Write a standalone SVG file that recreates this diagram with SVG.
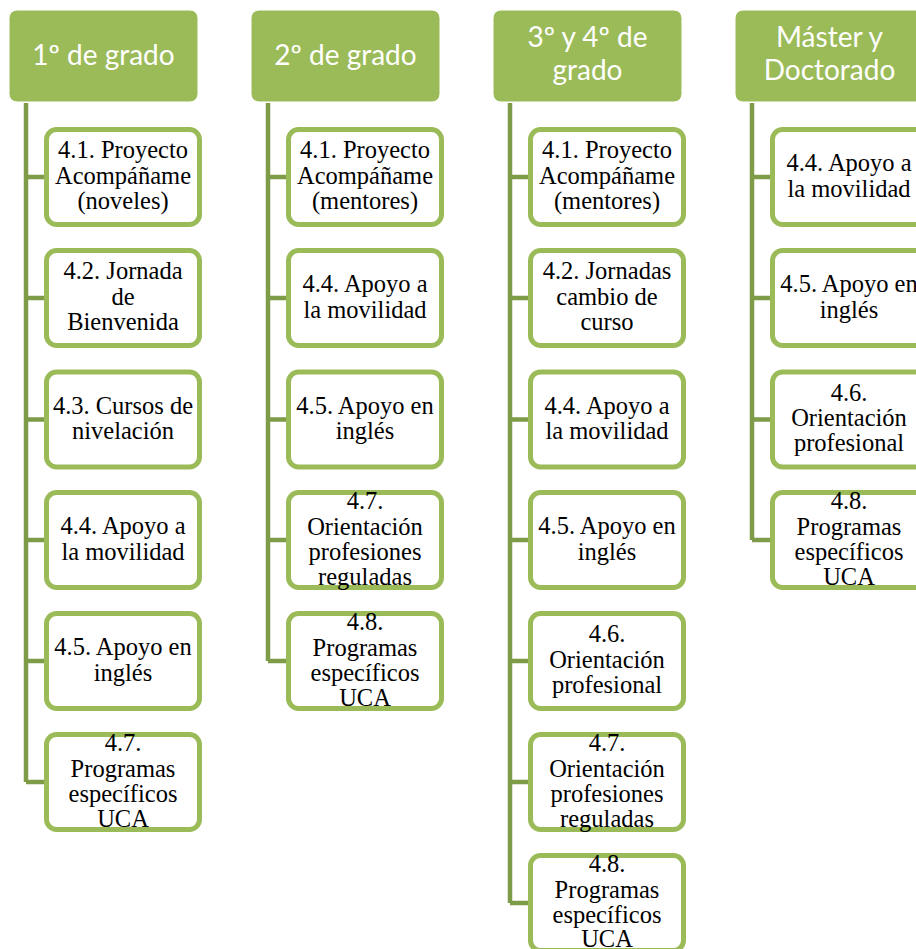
<svg xmlns="http://www.w3.org/2000/svg" width="916" height="949" viewBox="0 0 916 949">
<style>
.hdr{fill:#9BBB59;stroke:#ffffff;stroke-width:1}
.ht{font-size:28px;fill:#ffffff;text-anchor:middle}
.box{fill:#ffffff;stroke:#9BBB59;stroke-width:5}
.bt{font-size:20px;fill:#000000;text-anchor:middle}
.con{fill:none;stroke:#7E9B48;stroke-width:4.5;stroke-linejoin:miter}
</style>
<rect width="916" height="949" fill="#ffffff"/>
<g id="connectors">
<path class="con" d="M26,103 V782"/>
<path class="con" d="M26,177 H46 M26,298 H46 M26,419.5 H46 M26,540 H46 M26,661 H46 M26,782 H46"/>
<path class="con" d="M268,103 V661"/>
<path class="con" d="M268,177 H288 M268,298 H288 M268,419.5 H288 M268,540 H288 M268,661 H288"/>
<path class="con" d="M510,103 V903"/>
<path class="con" d="M510,177 H530 M510,298 H530 M510,419.5 H530 M510,540 H530 M510,661 H530 M510,782 H530 M510,903 H530"/>
<path class="con" d="M752,103 V540"/>
<path class="con" d="M752,177 H772 M752,298 H772 M752,419.5 H772 M752,540 H772"/>
</g>
<g id="h1"><rect class="hdr" x="9" y="10" width="189" height="92" rx="8"/><text class="ht" font-family="Lato, sans-serif" x="103.5" y="65">1º de grado</text></g>
<g id="c1n1"><rect class="box" x="46.5" y="129.5" width="153" height="95" rx="10"/><text class="bt" font-family="Liberation Serif, serif" transform="translate(123,177) scale(1.225)"><tspan x="0" y="-15.51">4.1. Proyecto</tspan><tspan x="0" y="5.31">Acompáñame</tspan><tspan x="0" y="26.12">(noveles)</tspan></text></g>
<g id="c1n2"><rect class="box" x="46.5" y="250.5" width="153" height="95" rx="10"/><text class="bt" font-family="Liberation Serif, serif" transform="translate(123,298) scale(1.225)"><tspan x="0" y="-15.51">4.2. Jornada</tspan><tspan x="0" y="5.31">de</tspan><tspan x="0" y="26.12">Bienvenida</tspan></text></g>
<g id="c1n3"><rect class="box" x="46.5" y="372" width="153" height="95" rx="10"/><text class="bt" font-family="Liberation Serif, serif" transform="translate(123,419.5) scale(1.225)"><tspan x="0" y="-4.69">4.3. Cursos de</tspan><tspan x="0" y="16.12">nivelación</tspan></text></g>
<g id="c1n4"><rect class="box" x="46.5" y="492.5" width="153" height="95" rx="10"/><text class="bt" font-family="Liberation Serif, serif" transform="translate(123,540) scale(1.225)"><tspan x="0" y="-4.69">4.4. Apoyo a</tspan><tspan x="0" y="16.12">la movilidad</tspan></text></g>
<g id="c1n5"><rect class="box" x="46.5" y="613.5" width="153" height="95" rx="10"/><text class="bt" font-family="Liberation Serif, serif" transform="translate(123,661) scale(1.225)"><tspan x="0" y="-4.69">4.5. Apoyo en</tspan><tspan x="0" y="16.12">inglés</tspan></text></g>
<g id="c1n6"><rect class="box" x="46.5" y="734.5" width="153" height="95" rx="10"/><text class="bt" font-family="Liberation Serif, serif" transform="translate(123,782) scale(1.225)"><tspan x="0" y="-25.31">4.7.</tspan><tspan x="0" y="-4.49">Programas</tspan><tspan x="0" y="16.33">específicos</tspan><tspan x="0" y="37.14">UCA</tspan></text></g>
<g id="h2"><rect class="hdr" x="251" y="10" width="189" height="92" rx="8"/><text class="ht" font-family="Lato, sans-serif" x="345.5" y="65">2º de grado</text></g>
<g id="c2n1"><rect class="box" x="288.5" y="129.5" width="153" height="95" rx="10"/><text class="bt" font-family="Liberation Serif, serif" transform="translate(365,177) scale(1.225)"><tspan x="0" y="-15.51">4.1. Proyecto</tspan><tspan x="0" y="5.31">Acompáñame</tspan><tspan x="0" y="26.12">(mentores)</tspan></text></g>
<g id="c2n2"><rect class="box" x="288.5" y="250.5" width="153" height="95" rx="10"/><text class="bt" font-family="Liberation Serif, serif" transform="translate(365,298) scale(1.225)"><tspan x="0" y="-4.69">4.4. Apoyo a</tspan><tspan x="0" y="16.12">la movilidad</tspan></text></g>
<g id="c2n3"><rect class="box" x="288.5" y="372" width="153" height="95" rx="10"/><text class="bt" font-family="Liberation Serif, serif" transform="translate(365,419.5) scale(1.225)"><tspan x="0" y="-4.69">4.5. Apoyo en</tspan><tspan x="0" y="16.12">inglés</tspan></text></g>
<g id="c2n4"><rect class="box" x="288.5" y="492.5" width="153" height="95" rx="10"/><text class="bt" font-family="Liberation Serif, serif" transform="translate(365,540) scale(1.225)"><tspan x="0" y="-25.31">4.7.</tspan><tspan x="0" y="-4.49">Orientación</tspan><tspan x="0" y="16.33">profesiones</tspan><tspan x="0" y="37.14">reguladas</tspan></text></g>
<g id="c2n5"><rect class="box" x="288.5" y="613.5" width="153" height="95" rx="10"/><text class="bt" font-family="Liberation Serif, serif" transform="translate(365,661) scale(1.225)"><tspan x="0" y="-25.31">4.8.</tspan><tspan x="0" y="-4.49">Programas</tspan><tspan x="0" y="16.33">específicos</tspan><tspan x="0" y="37.14">UCA</tspan></text></g>
<g id="h3"><rect class="hdr" x="493" y="10" width="189" height="92" rx="8"/><text class="ht" font-family="Lato, sans-serif"><tspan x="587.5" y="47">3º y 4º de</tspan><tspan x="587.5" y="80">grado</tspan></text></g>
<g id="c3n1"><rect class="box" x="530.5" y="129.5" width="153" height="95" rx="10"/><text class="bt" font-family="Liberation Serif, serif" transform="translate(607,177) scale(1.225)"><tspan x="0" y="-15.51">4.1. Proyecto</tspan><tspan x="0" y="5.31">Acompáñame</tspan><tspan x="0" y="26.12">(mentores)</tspan></text></g>
<g id="c3n2"><rect class="box" x="530.5" y="250.5" width="153" height="95" rx="10"/><text class="bt" font-family="Liberation Serif, serif" transform="translate(607,298) scale(1.225)"><tspan x="0" y="-15.51">4.2. Jornadas</tspan><tspan x="0" y="5.31">cambio de</tspan><tspan x="0" y="26.12">curso</tspan></text></g>
<g id="c3n3"><rect class="box" x="530.5" y="372" width="153" height="95" rx="10"/><text class="bt" font-family="Liberation Serif, serif" transform="translate(607,419.5) scale(1.225)"><tspan x="0" y="-4.69">4.4. Apoyo a</tspan><tspan x="0" y="16.12">la movilidad</tspan></text></g>
<g id="c3n4"><rect class="box" x="530.5" y="492.5" width="153" height="95" rx="10"/><text class="bt" font-family="Liberation Serif, serif" transform="translate(607,540) scale(1.225)"><tspan x="0" y="-4.69">4.5. Apoyo en</tspan><tspan x="0" y="16.12">inglés</tspan></text></g>
<g id="c3n5"><rect class="box" x="530.5" y="613.5" width="153" height="95" rx="10"/><text class="bt" font-family="Liberation Serif, serif" transform="translate(607,661) scale(1.225)"><tspan x="0" y="-15.51">4.6.</tspan><tspan x="0" y="5.31">Orientación</tspan><tspan x="0" y="26.12">profesional</tspan></text></g>
<g id="c3n6"><rect class="box" x="530.5" y="734.5" width="153" height="95" rx="10"/><text class="bt" font-family="Liberation Serif, serif" transform="translate(607,782) scale(1.225)"><tspan x="0" y="-25.31">4.7.</tspan><tspan x="0" y="-4.49">Orientación</tspan><tspan x="0" y="16.33">profesiones</tspan><tspan x="0" y="37.14">reguladas</tspan></text></g>
<g id="c3n7"><rect class="box" x="530.5" y="855.5" width="153" height="95" rx="10"/><text class="bt" font-family="Liberation Serif, serif" transform="translate(607,903) scale(1.225)"><tspan x="0" y="-25.31">4.8.</tspan><tspan x="0" y="-4.49">Programas</tspan><tspan x="0" y="16.33">específicos</tspan><tspan x="0" y="36.3">UCA</tspan></text></g>
<g id="h4"><rect class="hdr" x="735" y="10" width="189" height="92" rx="8"/><text class="ht" font-family="Lato, sans-serif"><tspan x="829.5" y="47">Máster y</tspan><tspan x="829.5" y="80">Doctorado</tspan></text></g>
<g id="c4n1"><rect class="box" x="772.5" y="129.5" width="153" height="95" rx="10"/><text class="bt" font-family="Liberation Serif, serif" transform="translate(849,177) scale(1.225)"><tspan x="0" y="-4.69">4.4. Apoyo a</tspan><tspan x="0" y="16.12">la movilidad</tspan></text></g>
<g id="c4n2"><rect class="box" x="772.5" y="250.5" width="153" height="95" rx="10"/><text class="bt" font-family="Liberation Serif, serif" transform="translate(849,298) scale(1.225)"><tspan x="0" y="-4.69">4.5. Apoyo en</tspan><tspan x="0" y="16.12">inglés</tspan></text></g>
<g id="c4n3"><rect class="box" x="772.5" y="372" width="153" height="95" rx="10"/><text class="bt" font-family="Liberation Serif, serif" transform="translate(849,419.5) scale(1.225)"><tspan x="0" y="-15.51">4.6.</tspan><tspan x="0" y="5.31">Orientación</tspan><tspan x="0" y="26.12">profesional</tspan></text></g>
<g id="c4n4"><rect class="box" x="772.5" y="492.5" width="153" height="95" rx="10"/><text class="bt" font-family="Liberation Serif, serif" transform="translate(849,540) scale(1.225)"><tspan x="0" y="-25.31">4.8.</tspan><tspan x="0" y="-4.49">Programas</tspan><tspan x="0" y="16.33">específicos</tspan><tspan x="0" y="37.14">UCA</tspan></text></g>
</svg>
